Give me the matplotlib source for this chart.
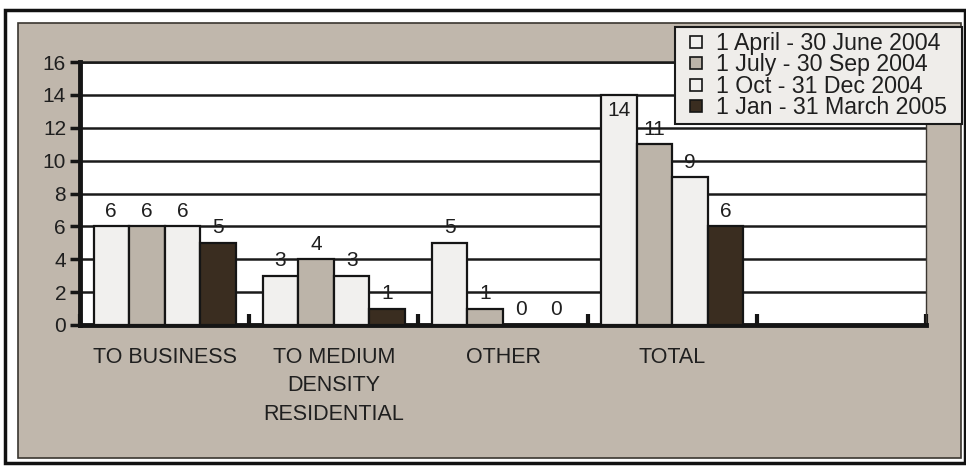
import numpy as np
import matplotlib.pyplot as plt
from matplotlib.patches import Rectangle
from matplotlib.lines import Line2D

plt.rcParams['font.family'] = ['Liberation Sans', 'DejaVu Sans']

categories = ["TO BUSINESS", "TO MEDIUM\nDENSITY\nRESIDENTIAL", "OTHER", "TOTAL"]
periods = ["1 April - 30 June 2004", "1 July - 30 Sep 2004",
           "1 Oct - 31 Dec 2004", "1 Jan - 31 March 2005"]
apr_jun_2004 = [6, 3, 5, 14]
jul_sep_2004 = [6, 4, 1, 11]
oct_dec_2004 = [6, 3, 0, 9]
jan_mar_2005 = [5, 1, 0, 6]

series = [apr_jun_2004, jul_sep_2004, oct_dec_2004, jan_mar_2005]
colors = ["#f1f0ee", "#bcb4a9", "#f1f0ee", "#3a2d20"]
text_col = "#1f1f1f"
panel_col = "#c0b7ac"

W, H = 966, 467
fig = plt.figure(figsize=(W / 100, H / 100), dpi=100)
fig.patch.set_facecolor("white")

def fx(px):
    return px / W

def fy(py):
    return 1 - py / H

# outer frame and grey panel behind the axes
fig.patches.append(Rectangle((fx(5), fy(463)), fx(960), 453 / H, transform=fig.transFigure,
                             facecolor="white", edgecolor="#111111", lw=2.5, zorder=-2))
fig.patches.append(Rectangle((fx(18), fy(458)), fx(943), 435 / H, transform=fig.transFigure,
                             facecolor=panel_col, edgecolor="#3a3630", lw=1.2, zorder=-1))

ax = fig.add_axes([fx(80), fy(325), fx(846), (325 - 62) / H])
ax.set_facecolor("white")

n_slots = 5
x = np.arange(len(categories))
bw = 0.21
for i, (vals, col) in enumerate(zip(series, colors)):
    pos = x + (i - 1.5) * bw
    ax.bar(pos, vals, width=bw, color=col, edgecolor="#151515", lw=1.6, zorder=3)
    for p, v in zip(pos, vals):
        if v > 12:
            ax.text(p, v - 0.4, str(v), ha="center", va="top", fontsize=15, color=text_col, zorder=4)
        else:
            ax.annotate(str(v), (p, v), xytext=(0, 4), textcoords="offset points",
                        ha="center", va="bottom", fontsize=15, color=text_col, zorder=4)

ax.set_xlim(-0.5, n_slots - 0.5)
ax.set_ylim(0, 16)
ax.set_yticks(np.arange(0, 17, 2))
ax.yaxis.grid(True, color="#1a1a1a", lw=1.8)
ax.set_axisbelow(True)

ax.set_xticks(x)
ax.set_xticklabels(categories, fontsize=15.5, color=text_col, linespacing=1.45, va="top")
ax.set_xticks(np.arange(-0.5, n_slots, 1), minor=True)
ax.tick_params(axis="x", which="major", length=0, pad=16)
ax.tick_params(axis="x", which="minor", direction="in", length=8, width=3, color="#151515")
ax.tick_params(axis="y", direction="out", length=7, width=2.5, color="#151515",
               labelsize=15, labelcolor=text_col, pad=3)

for s in ["left", "bottom"]:
    ax.spines[s].set_linewidth(3.5)
    ax.spines[s].set_color("#151515")
ax.spines["top"].set_linewidth(1.8)
ax.spines["top"].set_color("#1a1a1a")
ax.spines["right"].set_linewidth(1)
ax.spines["right"].set_color("#3a3630")

# legend with small square keys
handles = [Line2D([], [], ls="none", marker="s", markersize=8, markerfacecolor=c,
                  markeredgecolor="#151515", markeredgewidth=1.2) for c in colors]
leg = fig.legend(handles, periods, loc="upper left",
                 bbox_to_anchor=(fx(675), fy(122), fx(287), 95 / H), mode="expand",
                 borderaxespad=0, fontsize=16.7, frameon=True, fancybox=False, framealpha=1,
                 facecolor="#efedea", edgecolor="#1a1a1a", handlelength=1.45,
                 handletextpad=0.1, labelspacing=-0.06, borderpad=0.2)
leg.get_frame().set_linewidth(1.5)
for t in leg.get_texts():
    t.set_color(text_col)

fig.savefig("out.png", dpi=100, facecolor=fig.get_facecolor())
